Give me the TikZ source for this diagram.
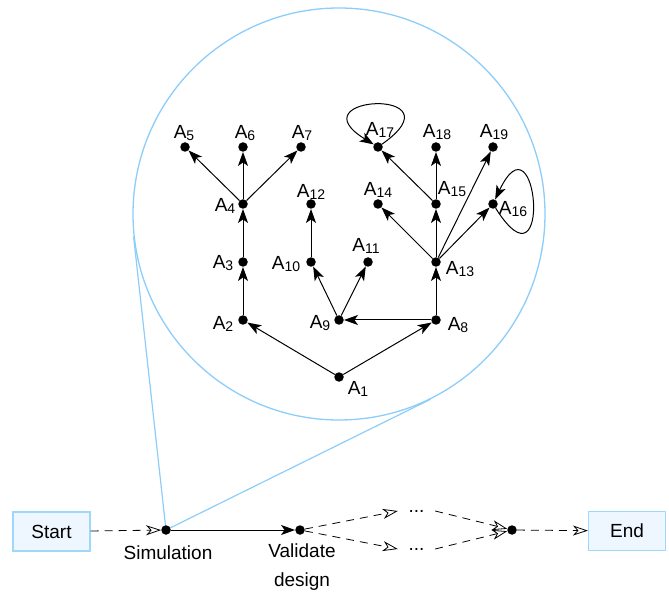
\documentclass[tikz,border=0pt]{standalone}
\usepackage{fontspec}
\setmainfont{Liberation Sans}
\usetikzlibrary{arrows.meta,calc}
\definecolor{lensblue}{RGB}{140,205,250}
\definecolor{boxfill}{RGB}{238,247,255}
\definecolor{boxline}{RGB}{160,216,250}
\newcommand\Asub[1]{A\raisebox{-2.5pt}{\fontsize{14}{14}\selectfont #1}}
\begin{document}
\begin{tikzpicture}[x=1pt,y=-1pt,
  dot/.style={circle,fill=black,inner sep=0pt,minimum size=9.5pt},
  lab/.style={inner sep=0pt,font=\fontsize{19}{23}\selectfont},
  arr/.style={-{Stealth[length=14pt,width=10pt,inset=3.5pt]},line width=1pt},
  openarr/.style={-{Stealth[open,length=15pt,width=10pt,inset=4.5pt,fill=white]},dash pattern=on 8pt off 6pt,line width=0.8pt},
  box/.style={draw=boxline,fill=boxfill,line width=1.2pt,minimum width=77pt,minimum height=39pt,inner sep=0pt,font=\fontsize{19}{23}\selectfont},
  dotsnode/.style={inner sep=0pt,minimum width=37pt,font=\fontsize{19}{23}\selectfont}]
\useasboundingbox (0,0) rectangle (669,593);

% zoom circle
\node[circle,draw=lensblue,line width=1.3pt,minimum size=412pt,inner sep=0pt] (lens) at (339,214) {};
\coordinate (simc) at (166,530);
\draw[lensblue,line width=1.2pt] (simc) -- (tangent cs:node=lens,point={(simc)},solution=1);
\draw[lensblue,line width=1.2pt] (simc) -- (tangent cs:node=lens,point={(simc)},solution=2);

% inner graph nodes
\node[dot] (a1) at (339,377) {};
\node[dot] (a2) at (243,320) {};
\node[dot] (a3) at (243,262) {};
\node[dot] (a4) at (243,204) {};
\node[dot] (a5) at (185,147) {};
\node[dot] (a6) at (243,147) {};
\node[dot] (a7) at (301,147) {};
\node[dot] (a8) at (436,320) {};
\node[dot] (a9) at (339,320) {};
\node[dot] (a10) at (311,262) {};
\node[dot] (a11) at (368,262) {};
\node[dot] (a12) at (311,204) {};
\node[dot] (a13) at (436,262) {};
\node[dot] (a14) at (378,204) {};
\node[dot] (a15) at (436,204) {};
\node[dot] (a16) at (493,204) {};
\node[dot] (a17) at (378,147) {};
\node[dot] (a18) at (436,147) {};
\node[dot] (a19) at (493,147) {};

% labels
\node[lab] (l1) at (358,389) {\Asub{1}};
\node[lab] (l2) at (223,324) {\Asub{2}};
\node[lab] (l3) at (223,263) {\Asub{3}};
\node[lab] (l4) at (225,206) {\Asub{4}};
\node[lab] (l5) at (184,133) {\Asub{5}};
\node[lab] (l6) at (245,133) {\Asub{6}};
\node[lab] (l7) at (302,133) {\Asub{7}};
\node[lab] (l8) at (458,325) {\Asub{8}};
\node[lab] (l9) at (320,323) {\Asub{9}};
\node[lab] (l10) at (286,264) {\Asub{10}};
\node[lab] (l11) at (366,246) {\Asub{11}};
\node[lab] (l12) at (311,192) {\Asub{12}};
\node[lab] (l13) at (460,269) {\Asub{13}};
\node[lab] (l14) at (378,190) {\Asub{14}};
\node[lab] (l15) at (452,189) {\Asub{15}};
\node[lab] (l16) at (513,209) {\Asub{16}};
\node[lab] (l17) at (380,130) {\Asub{17}};
\node[lab] (l18) at (437,132) {\Asub{18}};
\node[lab] (l19) at (494,132) {\Asub{19}};

% inner edges
\draw[arr] (a1) -- (a2);
\draw[arr] (a1) -- (a8);
\draw[arr] (a8) -- (a9);
\draw[arr] (a2) -- (a3);
\draw[arr] (a3) -- (a4);
\draw[arr] (a4) -- (a5);
\draw[arr] (a4) -- (a6);
\draw[arr] (a4) -- (a7);
\draw[arr] (a9) -- (a10);
\draw[arr] (a9) -- (a11);
\draw[arr] (a10) -- (a12);
\draw[arr] (a8) -- (a13);
\draw[arr] (a13) -- (a14);
\draw[arr] (a13) -- (a15);
\draw[arr] (a13) -- (a16);
\draw[arr] (a13) -- (a19);
\draw[arr] (a15) -- (a17);
\draw[arr] (a15) -- (a18);
\draw[arr] (a17) .. controls +(85,-60) and +(-85,-52) .. (a17);
\draw[arr] (a16) .. controls +(60,95) and +(45,-95) .. (a16);

% bottom flow
\node[box] (start) at (51.5,531.5) {Start};
\node[box] (end) at (627,531) {End};
\node[dot] (sim) at (simc) {};
\node[dot] (val) at (300,530) {};
\node[dot] (merge) at (512,530) {};
\node[lab] (simlab) at (168,553) {Simulation};
\node[lab,align=center,font=\fontsize{19}{29}\selectfont] (vallab) at (302,567) {Validate\\design};
\node[dotsnode] (u) at (416.5,511) {...};
\node[dotsnode] (l) at (416.5,549) {...};

\draw[openarr] (start) -- (sim);
\draw[arr] (sim) -- (val);
\draw[openarr] (val) -- (u.west);
\draw[openarr] (val) -- (l.west);
\draw[openarr] (u.east) -- (merge);
\draw[openarr] (l.east) -- (merge);
\draw[openarr] (merge) -- (end);
\end{tikzpicture}
\end{document}
